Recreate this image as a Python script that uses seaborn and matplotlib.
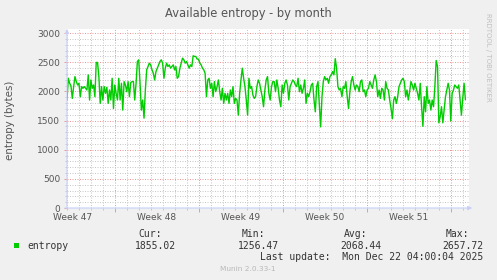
import numpy as np
import pandas as pd
import matplotlib
matplotlib.use("Agg")
import matplotlib.pyplot as plt
import seaborn as sns
from matplotlib.ticker import FixedLocator, NullFormatter

# ---- data ----
entropy_weeks_47_49 = [
    1851, 2224, 2138, 2092, 1879, 2081, 2253, 2167, 2109, 2138,
    1908, 2081, 2052, 2081, 2052, 2023, 2282, 1851, 2195, 2052,
    2109, 1908, 2495, 2495, 2253, 1793, 2081, 1851, 2081, 1966,
    2069, 1793, 2023, 1851, 2224, 1707, 2109, 1966, 1851, 2224,
    1851, 2138, 1678, 2167, 2109, 1994, 2167, 1908, 2150, 2167,
    2167, 1851, 2138, 2512, 2540, 2138, 1678, 1851, 1540, 2023,
    2368, 2425, 2483, 2454, 2368, 2310, 2195, 2339, 2397, 2454,
    2512, 2540, 2483, 2224, 2397, 2483, 2425, 2454, 2397, 2425,
    2454, 2368, 2425, 2224, 2253, 2397, 2483, 2569, 2540, 2483,
    2512, 2454, 2397, 2454, 2425, 2610, 2598, 2598, 2552, 2552,
    2483, 2454, 2397, 2368, 2310, 1908, 2195, 2224, 2052, 2138,
    1908, 2167, 1994, 2081, 2195, 1994, 1851, 2052, 1793, 1966,
    1851, 1966, 1793, 2023, 1908, 2081, 1793, 1879, 1851, 1592,
    1966, 2195, 2397, 2224, 2081, 1851, 1592, 2224,
]
entropy_weeks_49_52 = [
    2052, 2081, 1937, 1879, 1908, 2081, 2195, 2138, 2023, 1908,
    1736, 2023, 2195, 2253, 1966, 1851, 2081, 2167, 2167, 1994,
    2195, 2052, 1851, 1736, 2109, 1966, 2138, 2195, 2109, 1851,
    2081, 2138, 2195, 2167, 2109, 2081, 2224, 1994, 2109, 1966,
    2052, 2195, 1793, 1966, 1908, 1994, 2109, 2138, 1851, 1649,
    2081, 2167, 1793, 1390, 1908, 2167, 2253, 2195, 2224, 2138,
    2253, 2282, 2339, 2282, 2560, 2397, 2081, 2023, 2052, 1908,
    2081, 2052, 2167, 1908, 1707, 1994, 2167, 2253, 2109, 2023,
    2109, 2081, 1994, 2167, 2195, 1994, 2023, 1908, 2023, 2052,
    2167, 2109, 2052, 2195, 2282, 2167, 1908, 2023, 1879, 2052,
    2023, 1851, 2167, 2052, 2023, 1851, 1707, 1530, 1851, 1908,
    1793, 1908, 2081, 2138, 2195, 2224, 2167, 1908, 2023, 1851,
    1994, 2167, 2109, 2023, 2138, 2052, 1966, 1851, 2138, 1736,
    1400, 1908, 1649, 2081, 1793, 1851, 1678, 1851, 1736, 2081,
    2530, 2425, 1460, 1563, 1736, 1460, 1678, 1908, 2023, 2138,
    2023, 1490, 1966, 2023, 2109, 2081, 2052, 2109, 1851, 1592,
    1879, 2138, 1855,
]
entropy = entropy_weeks_47_49 + entropy_weeks_49_52
data_span_days = 33.2          # time covered by the samples, in days
axis_span_days = 33.5
week_labels = ["Week 47", "Week 48", "Week 49", "Week 50", "Week 51"]
week_label_days = [0.5, 7.5, 14.5, 21.5, 28.5]
week_start_days = [4, 11, 18, 25, 32]
y_major = [0, 500, 1000, 1500, 2000, 2500, 3000]
y_minor = list(range(0, 3001, 100))
stat_names = ["Cur:", "Min:", "Avg:", "Max:"]
stat_values = ["1855.02", "1256.47", "2068.44", "2657.72"]
series_name = "entropy"
last_update = "Last update:  Mon Dec 22 04:00:04 2025"

# ---- style ----
sns.set_theme(style="white")
plt.rcParams["font.family"] = ["DejaVu Sans"]

W, H = 497, 280
BG = "#F0F0F0"
TXT = "#555555"
LINE = "#00CC00"
MINOR = "#C8C8C8"
MAJOR = "#EC9A9A"
AXIS = "#C8D0F8"

fig = plt.figure(figsize=(W / 100, H / 100), dpi=100, facecolor=BG)
ax = fig.add_axes([67 / W, 1 - 208 / H, (469 - 67) / W, (208 - 29) / H])
ax.set_facecolor("white")

df = pd.DataFrame({
    "day": np.linspace(0, data_span_days, len(entropy)),
    "entropy": entropy,
})
sns.lineplot(data=df, x="day", y="entropy", ax=ax, color=LINE,
             linewidth=1.0, legend=False, zorder=3)

ax.set_xlim(0, axis_span_days)
ax.set_ylim(0, 3000 * 179 / 175)
ax.set_xlabel("")
ax.set_ylabel("")

ax.yaxis.set_major_locator(FixedLocator(y_major))
ax.yaxis.set_minor_locator(FixedLocator(y_minor))
ax.xaxis.set_major_locator(FixedLocator(week_start_days))
ax.xaxis.set_minor_locator(FixedLocator(list(range(0, 34))))
ax.xaxis.set_major_formatter(NullFormatter())
ax.grid(which="minor", color=MINOR, linestyle=(0, (1, 1.5)), linewidth=0.72)
ax.grid(which="major", color=MAJOR, linestyle=(0, (1, 1.5)), linewidth=0.72)
ax.set_axisbelow(True)

ax.tick_params(axis="y", which="major", length=2, width=0.72, color=MAJOR,
               labelsize=6.5, labelcolor=TXT, pad=3, left=True)
ax.tick_params(axis="y", which="minor", length=1.5, width=0.72, color=MINOR, left=True)
ax.tick_params(axis="x", which="major", length=3, width=0.72, color=MAJOR, bottom=True)
ax.tick_params(axis="x", which="minor", length=1.5, width=0.72, color=MINOR, bottom=True)

for s in ax.spines.values():
    s.set_visible(False)

# axis lines with arrow heads
ax.annotate("", xy=(0, 1.0), xytext=(0, -0.005), xycoords="axes fraction",
            arrowprops=dict(arrowstyle="-|>", color=AXIS, lw=0.8,
                            mutation_scale=6, shrinkA=0, shrinkB=0),
            annotation_clip=False, zorder=5)
ax.annotate("", xy=(1.008, 0), xytext=(-0.005, 0), xycoords="axes fraction",
            arrowprops=dict(arrowstyle="-|>", color=AXIS, lw=0.8,
                            mutation_scale=6, shrinkA=0, shrinkB=0),
            annotation_clip=False, zorder=5)

xt = ax.get_xaxis_transform()
for lab, d in zip(week_labels, week_label_days):
    ax.text(d, -0.03, lab, transform=xt, ha="center", va="top",
            fontsize=6.5, color=TXT)

# title, axis label, side credit
fig.text(0.5, 1 - 13 / H, "Available entropy - by month", ha="center",
         va="center", fontsize=8.3, color=TXT)
fig.text(10 / W, 1 - 120 / H, "entropy (bytes)", rotation=90, ha="center",
         va="center", fontsize=7.4, color=TXT)
fig.text(488 / W, 1 - 57 / H, "RRDTOOL / TOBI OETIKER", rotation=270,
         ha="center", va="center", fontsize=5, color="#C0C0C0")

# legend block
mono = ["DejaVu Sans Mono"]
fig.patches.append(plt.Rectangle((14 / W, 1 - 248 / H), 5 / W, 5 / H,
                                 transform=fig.transFigure, facecolor=LINE,
                                 edgecolor="none"))
fig.text(27 / W, 1 - 246 / H, series_name, family=mono, fontsize=7,
         color="#333333", ha="left", va="center")
name_right = [162, 265, 367, 469]
value_right = [176, 279, 381, 483]
for n, xr in zip(stat_names, name_right):
    fig.text(xr / W, 1 - 234 / H, n, family=mono, fontsize=7, color="#333333",
             ha="right", va="center")
for v, xr in zip(stat_values, value_right):
    fig.text(xr / W, 1 - 246 / H, v, family=mono, fontsize=7, color="#333333",
             ha="right", va="center")
fig.text(483 / W, 1 - 257 / H, last_update, family=mono, fontsize=7,
         color="#333333", ha="right", va="center")
fig.text(248 / W, 1 - 269 / H, "Munin 2.0.33-1", fontsize=5.3,
         color="#B8B8B8", ha="center", va="center")

fig.savefig("out.png", dpi=100, facecolor=BG)
